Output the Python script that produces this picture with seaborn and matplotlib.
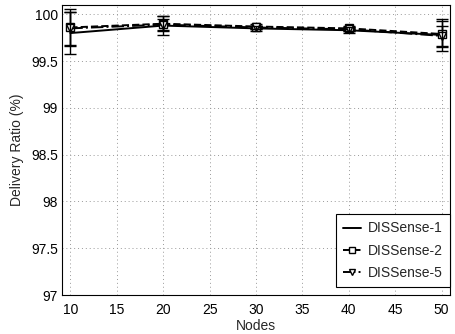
import matplotlib
matplotlib.use("Agg")
import matplotlib.pyplot as plt
import seaborn as sns
import numpy as np
import pandas as pd

nodes = [10, 20, 30, 40, 50]
series_names = ["DISSense-1", "DISSense-2", "DISSense-5"]
ratio_1 = [99.80, 99.88, 99.85, 99.83, 99.78]
ratio_2 = [99.86, 99.90, 99.87, 99.85, 99.79]
ratio_5 = [99.85, 99.89, 99.86, 99.84, 99.77]
err_1 = [0.22, 0.10, 0.03, 0.03, 0.17]
err_2 = [0.20, 0.08, 0.03, 0.03, 0.14]
err_5 = [0.18, 0.06, 0.02, 0.02, 0.11]
x_ticks = [10, 15, 20, 25, 30, 35, 40, 45, 50]
y_ticks = [97, 97.5, 98, 98.5, 99, 99.5, 100]
y_tick_labels = ["97", "97.5", "98", "98.5", "99", "99.5", "100"]

sns.set_style("white")
plt.rcParams['font.family'] = ['Liberation Sans', 'DejaVu Sans']

df = pd.DataFrame({
    "Nodes": nodes * 3,
    "Ratio": ratio_1 + ratio_2 + ratio_5,
    "Err": err_1 + err_2 + err_5,
    "Series": [s for s in series_names for _ in nodes],
})

fig = plt.figure(figsize=(4.55, 3.34), dpi=100)
ax = fig.add_axes([62/455, 1-295/334, (450-62)/455, (295-5)/334])

styles = {
    "DISSense-1": dict(ls="-", marker=None),
    "DISSense-2": dict(ls="--", marker="s"),
    "DISSense-5": dict(ls="-.", marker="v"),
}

for name in series_names:
    sub = df[df["Series"] == name]
    st = styles[name]
    sns.lineplot(data=sub, x="Nodes", y="Ratio", ax=ax, color="black",
                 linestyle=st["ls"], marker=st["marker"], markersize=6,
                 markerfacecolor="white", markeredgecolor="black",
                 markeredgewidth=1.0, linewidth=1.4, label=name)
    ax.errorbar(sub["Nodes"], sub["Ratio"], yerr=sub["Err"], fmt="none",
                ecolor="black", elinewidth=1.0, capsize=4, capthick=1.0)

ax.set_xlim(9.1, 50.9)
ax.set_ylim(97, 100.1)
ax.set_xticks(x_ticks)
ax.set_yticks(y_ticks)
ax.set_yticklabels(y_tick_labels)
ax.tick_params(direction="in", length=3, labelsize=10, colors="black")
ax.tick_params(axis="x", pad=6)
ax.tick_params(axis="y", pad=3)
ax.grid(True, linestyle=(0, (1, 3)), color="#999999", linewidth=0.7)
for s in ax.spines.values():
    s.set_color("black")
    s.set_linewidth(0.8)
ax.set_xlabel("Nodes", fontsize=10, labelpad=1)
ax.set_ylabel("Delivery Ratio (%)", fontsize=10, labelpad=5)

leg = ax.legend(loc="lower right", bbox_to_anchor=(1.0, 8/290), fontsize=10,
                frameon=True, fancybox=False, edgecolor="black", framealpha=1,
                borderaxespad=0.0, handlelength=1.3, labelspacing=0.6,
                markerscale=0.75, borderpad=0.5, handletextpad=0.5)
leg.get_frame().set_linewidth(0.8)

fig.savefig("out.png", dpi=100)
